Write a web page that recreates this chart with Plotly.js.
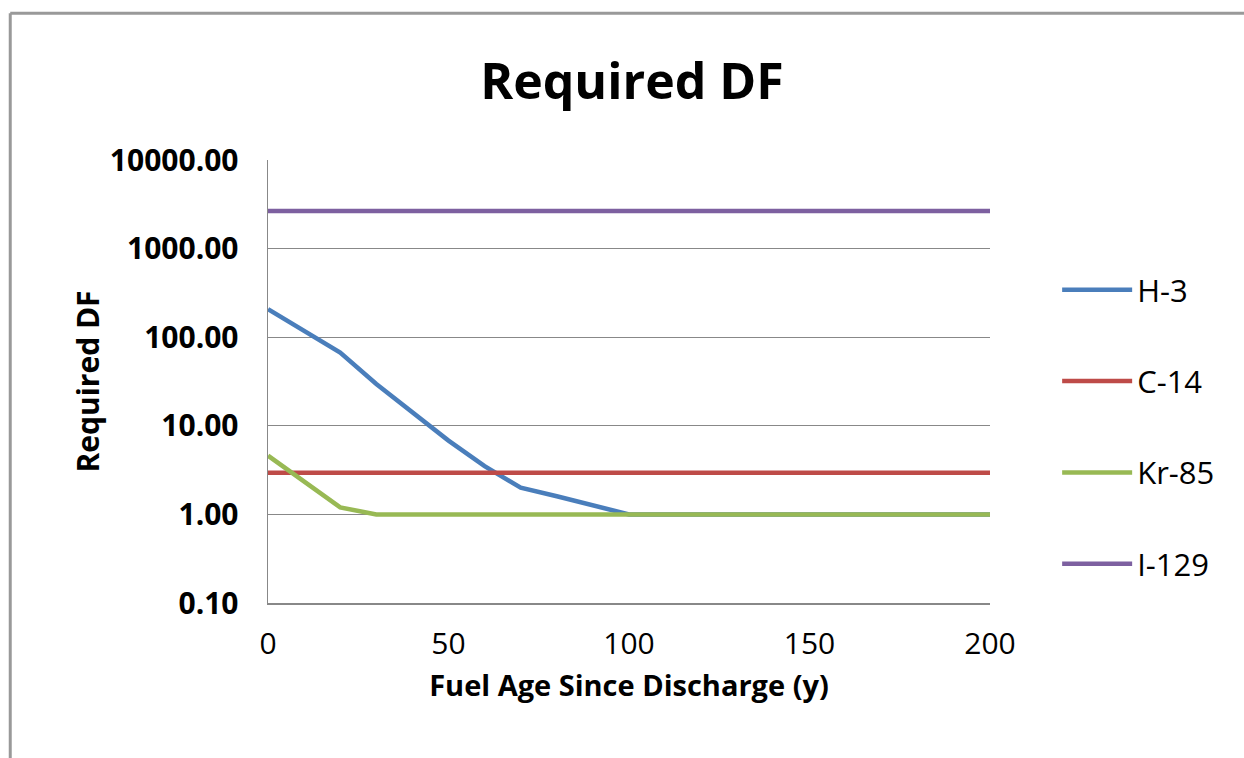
<!DOCTYPE html>
<html>
<head>
<meta charset="utf-8">
<script src="https://cdn.plot.ly/plotly-3.0.1.min.js"></script>
<style>html,body{margin:0;padding:0;background:#fff;}#chart{width:1244px;height:758px;}</style>
</head>
<body>
<div id="chart"></div>
<script>
const fuelAge = [0,10,20,30,40,50,60,70,80,90,100,110,120,130,140,150,160,170,180,190,200];
const h3   = [207,118,67,29.6,14,6.8,3.5,2.0,1.6,1.25,1.0,1,1,1,1,1,1,1,1,1,1];
const c14  = [2.95,2.95,2.95,2.95,2.95,2.95,2.95,2.95,2.95,2.95,2.95,2.95,2.95,2.95,2.95,2.95,2.95,2.95,2.95,2.95,2.95];
const kr85 = [4.6,2.35,1.2,1.0,1,1,1,1,1,1,1,1,1,1,1,1,1,1,1,1,1];
const i129 = [2650,2650,2650,2650,2650,2650,2650,2650,2650,2650,2650,2650,2650,2650,2650,2650,2650,2650,2650,2650,2650];
const seriesNames = ["H-3","C-14","Kr-85","I-129"];
const seriesColors = ["#4A7EBB","#BE4B48","#98B954","#7D60A0"];
const yTickVals = [0.1,1,10,100,1000,10000];
const xTickVals = [0,50,100,150,200];

const FONT = "'Open Sans', sans-serif";
const data = [h3,c14,kr85,i129].map((ys,i)=>({
  x: fuelAge, y: ys, name: seriesNames[i], type:'scatter', mode:'lines',
  line:{color:seriesColors[i], width:4.5}, legendgroup:'g'+i
}));

const layout = {
  width:1244, height:758,
  margin:{l:268, r:254, t:160, b:155},
  paper_bgcolor:'#fff', plot_bgcolor:'#fff',
  font:{family:FONT, color:'#000'},
  title:{text:'<b>Required DF</b>', font:{size:50, family:FONT, color:'#000'}, x:0.508, xanchor:'center', y:0.893, yanchor:'middle'},
  xaxis:{range:[0,200], tickvals:xTickVals, ticks:'', showgrid:false, zeroline:false,
    showline:true, linecolor:'#888', linewidth:1.5,
    tickfont:{size:30, family:FONT}, ticklabelstandoff:13,
    title:{text:'<b>Fuel Age Since Discharge (y)</b>', font:{size:29, family:FONT}, standoff:14}},
  yaxis:{type:'log', range:[-1,4], tickvals:yTickVals, tickformat:'.2f', ticks:'',
    showgrid:true, gridcolor:'#888', gridwidth:1.2, zeroline:false,
    showline:true, linecolor:'#888', linewidth:1.5,
    tickfont:{size:30, family:FONT}, ticklabelstandoff:22,
    title:{text:'<b>Required DF</b>', font:{size:30, family:FONT}, standoff:2}},
  showlegend:true,
  legend:{x:1.093, xanchor:'left', y:0.397, yanchor:'middle', font:{size:31, family:FONT},
    tracegroupgap:48, itemwidth:70, bgcolor:'rgba(0,0,0,0)'},
  shapes:[
    {type:'line', xref:'paper', yref:'paper', x0:-0.357, x1:1.4, y0:1.331, y1:1.331, line:{color:'#999', width:3}},
    {type:'line', xref:'paper', yref:'paper', x0:-0.357, x1:-0.357, y0:1.331, y1:-0.4, line:{color:'#999', width:3}}
  ]
};
Plotly.newPlot('chart', data, layout, {displayModeBar:false, staticPlot:true}).then(()=>{
  document.querySelectorAll('.ytick text').forEach(t=>t.style.fontWeight='bold');
});
</script>
</body>
</html>
